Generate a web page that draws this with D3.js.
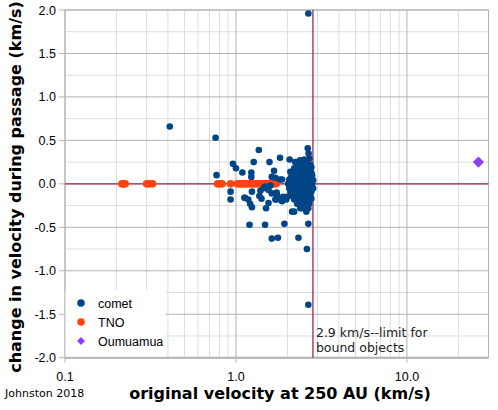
<!DOCTYPE html>
<html>
<head>
<meta charset="utf-8">
<script src="https://cdn.jsdelivr.net/npm/d3@7"></script>
<style>
  body { margin: 0; background: #fff; }
  svg { display: block; }
</style>
</head>
<body>
<div id="chart"></div>
<script>
// comets: [original velocity (km/s), change in velocity (km/s)]
const comets = [
  [2.65, 1.96], [0.41, 0.66], [0.76, 0.53], [0.77, 0.10], [0.96, 0.23], [1.00, 0.18],
  [1.09, 0.13], [0.93, -0.09], [0.93, -0.18], [1.36, 0.39], [1.23, 0.13], [1.23, 0.08],
  [1.27, 0.25], [1.12, -0.16], [1.18, -0.18], [1.21, -0.23], [1.24, -0.27], [1.20, -0.47],
  [1.48, -0.47], [1.62, -0.63], [1.76, -0.62], [1.92, -0.46], [2.32, -0.62], [2.60, -0.75],
  [2.65, -0.46], [2.65, -1.39], [1.41, -0.17], [1.39, -0.08], [1.50, -0.28], [1.55, -0.22],
  [1.57, 0.25], [1.67, 0.15], [1.81, 0.30], [2.06, 0.28], [2.27, 0.25], [2.37, 0.27],
  [2.63, 0.41], [2.66, 0.35], [1.45, -0.05], [1.59, -0.02], [1.74, -0.13], [1.81, -0.17],
  [1.70, -0.18], [1.88, -0.18], [1.99, -0.15], [2.13, -0.32], [2.19, -0.32], [2.43, -0.28],
  [2.08, 0.14], [1.81, 0.05], [1.62, 0.08], [1.70, 0.07], [1.24, -0.09], [1.48, -0.03],
  [1.55, -0.07], [1.62, -0.11], [1.73, -0.10], [1.37, -0.14], [1.13, -0.16], [1.73, -0.18],
  [1.89, -0.15], [1.86, -0.20], [1.97, -0.18], [2.56, -0.26], [1.86, 0.05], [2.22, 0.25],
  [2.51, 0.28], [2.69, 0.29], [2.31, 0.22], [2.44, 0.23], [2.58, 0.24], [2.72, 0.22],
  [2.19, 0.18], [2.31, 0.17], [2.44, 0.19], [2.54, 0.18], [2.65, 0.17], [2.76, 0.19],
  [2.13, 0.13], [2.25, 0.14], [2.35, 0.12], [2.44, 0.14], [2.54, 0.13], [2.65, 0.15], [2.76, 0.13],
  [2.11, 0.09], [2.19, 0.10], [2.28, 0.08], [2.38, 0.09], [2.48, 0.10], [2.58, 0.08], [2.68, 0.09], [2.79, 0.10],
  [2.05, 0.05], [2.13, 0.04], [2.22, 0.05], [2.31, 0.06], [2.41, 0.04], [2.51, 0.05], [2.61, 0.04], [2.72, 0.05], [2.83, 0.04],
  [2.02, 0.00], [2.11, -0.01], [2.19, 0.01], [2.28, 0.00], [2.38, -0.01], [2.48, 0.00], [2.58, 0.01], [2.68, -0.01], [2.79, 0.00],
  [2.05, -0.05], [2.13, -0.04], [2.22, -0.06], [2.31, -0.05], [2.41, -0.04], [2.51, -0.06], [2.61, -0.05], [2.72, -0.04], [2.83, -0.05],
  [2.08, -0.09], [2.16, -0.10], [2.25, -0.09], [2.35, -0.08], [2.44, -0.10], [2.54, -0.09], [2.65, -0.10], [2.76, -0.09],
  [2.13, -0.14], [2.22, -0.13], [2.31, -0.15], [2.41, -0.14], [2.51, -0.13], [2.61, -0.14], [2.72, -0.15],
  [2.19, -0.18], [2.31, -0.19], [2.44, -0.18], [2.54, -0.19], [2.65, -0.18], [2.76, -0.17],
  [2.28, -0.23], [2.41, -0.22], [2.54, -0.24], [2.68, -0.23],
  [2.38, -0.28], [2.51, -0.27], [2.65, -0.28], [2.58, -0.32]
];
// TNOs all sit on zero change
const tnoVelocity = [
  0.215, 0.22, 0.225, 0.30, 0.31, 0.325, 0.78, 0.80, 0.83, 0.93, 1.02, 1.05, 1.08, 1.11,
  1.14, 1.17, 1.20, 1.24, 1.28, 1.32, 1.36, 1.40, 1.45, 1.50, 1.55, 1.60, 1.66, 1.72
];
const oumuamua = [[26.2, 0.25]];

const boundLimit = 2.82;
const seriesNames = ["comet", "TNO", "Oumuamua"];
const seriesColors = ["#004586", "#ff420e", "#8b40ff"];
const xTickValues = [0.1, 1, 10];
const xTickLabels = ["0.1", "1.0", "10.0"];
const yTickValues = [2, 1.5, 1, 0.5, 0, -0.5, -1, -1.5, -2];
const yTickLabels = ["2.0", "1.5", "1.0", "0.5", "0.0", "-0.5", "-1.0", "-1.5", "-2.0"];
const yMinorValues = [1.75, 1.25, 0.75, 0.25, -0.25, -0.75, -1.25, -1.75];

const width = 498, height = 410;
const plotLeft = 65, plotRight = 488.5, plotTop = 10, plotBottom = 357.7;

const svg = d3.select("#chart").append("svg")
  .attr("width", width).attr("height", height)
  .style("font-family", "'Liberation Sans', Arial, sans-serif");

const x = d3.scaleLog().domain([0.1, 30]).range([plotLeft, plotRight]);
const y = d3.scaleLinear().domain([-2, 2]).range([plotBottom, plotTop]);

// minor grid
svg.append("g").selectAll("line")
  .data(x.ticks().filter((d) => !xTickValues.includes(d)))
  .join("line")
  .attr("x1", (d) => x(d)).attr("x2", (d) => x(d))
  .attr("y1", plotTop).attr("y2", plotBottom)
  .attr("stroke", "#dddddd");
svg.append("g").selectAll("line")
  .data(yMinorValues)
  .join("line")
  .attr("x1", plotLeft).attr("x2", plotRight)
  .attr("y1", (d) => y(d)).attr("y2", (d) => y(d))
  .attr("stroke", "#dddddd");

// major grid, with short ticks outside the frame
svg.append("g").selectAll("line")
  .data(xTickValues)
  .join("line")
  .attr("x1", (d) => x(d)).attr("x2", (d) => x(d))
  .attr("y1", plotTop).attr("y2", plotBottom + 5)
  .attr("stroke", "#b3b3b3");
svg.append("g").selectAll("line")
  .data(yTickValues)
  .join("line")
  .attr("x1", plotLeft - 6).attr("x2", plotRight)
  .attr("y1", (d) => y(d)).attr("y2", (d) => y(d))
  .attr("stroke", "#b3b3b3");

svg.append("rect")
  .attr("x", plotLeft).attr("y", plotTop)
  .attr("width", plotRight - plotLeft).attr("height", plotBottom - plotTop)
  .attr("fill", "none").attr("stroke", "#b3b3b3");
svg.append("line")
  .attr("x1", plotLeft).attr("x2", plotRight).attr("y1", plotBottom).attr("y2", plotBottom)
  .attr("stroke", "#b3b3b3").attr("stroke-width", 2);

// tick labels
svg.append("g").selectAll("text")
  .data(yTickValues)
  .join("text")
  .attr("x", plotLeft - 9).attr("y", (d) => y(d) + 4.5)
  .attr("text-anchor", "end")
  .attr("font-size", 12.5)
  .text((d, i) => yTickLabels[i]);
svg.append("g").selectAll("text")
  .data(xTickValues)
  .join("text")
  .attr("x", (d) => x(d)).attr("y", plotBottom + 23)
  .attr("text-anchor", "middle")
  .attr("font-size", 12.5)
  .text((d, i) => xTickLabels[i]);

// reference lines
const limitColor = "#a3244f";
svg.append("line")
  .attr("x1", plotLeft).attr("x2", plotRight).attr("y1", y(0)).attr("y2", y(0))
  .attr("stroke", limitColor).attr("stroke-width", 1.3);
svg.append("line")
  .attr("x1", x(boundLimit)).attr("x2", x(boundLimit)).attr("y1", plotTop).attr("y2", plotBottom)
  .attr("stroke", limitColor).attr("stroke-width", 1.3);

// legend box
svg.append("rect")
  .attr("x", plotLeft + 0.5).attr("y", 290)
  .attr("width", 100).attr("height", plotBottom - 291)
  .attr("fill", "#fff");

// points
svg.append("g").selectAll("circle")
  .data(tnoVelocity)
  .join("circle")
  .attr("cx", (d) => x(d)).attr("cy", y(0)).attr("r", 3.8)
  .attr("fill", seriesColors[1]);
svg.append("g").selectAll("circle")
  .data(comets)
  .join("circle")
  .attr("cx", (d) => x(d[0])).attr("cy", (d) => y(d[1])).attr("r", 3.3)
  .attr("fill", seriesColors[0]);
const diamond = d3.symbol().type(d3.symbolDiamond2).size(80);
svg.append("g").selectAll("path")
  .data(oumuamua)
  .join("path")
  .attr("d", diamond)
  .attr("transform", (d) => `translate(${x(d[0])},${y(d[1])})`)
  .attr("fill", seriesColors[2]);

// legend entries
const legend = svg.append("g").selectAll("g")
  .data(seriesNames)
  .join("g")
  .attr("transform", (d, i) => `translate(81,${303 + i * 19})`);
legend.append("path")
  .attr("d", (d, i) => d3.symbol().type(i < 2 ? d3.symbolCircle : d3.symbolDiamond2).size(i < 2 ? 45 : 40)())
  .attr("fill", (d, i) => seriesColors[i]);
legend.append("text")
  .attr("x", 17).attr("y", 4.5)
  .attr("font-size", 12.5)
  .text((d) => d);

// annotation
const note = svg.append("text")
  .attr("x", x(boundLimit) + 3).attr("y", 337)
  .attr("font-family", "'DejaVu Sans', sans-serif")
  .attr("font-size", 12.5)
  .attr("fill", "#222");
note.append("tspan").attr("x", x(boundLimit) + 3).text("2.9 km/s--limit for");
note.append("tspan").attr("x", x(boundLimit) + 3).attr("dy", 15).text("bound objects");

svg.append("text")
  .attr("x", 5).attr("y", 397)
  .attr("font-family", "'DejaVu Sans', sans-serif")
  .attr("font-size", 11)
  .text("Johnston 2018");

// axis titles
svg.append("text")
  .attr("x", 280).attr("y", 399)
  .attr("text-anchor", "middle")
  .attr("font-family", "'DejaVu Sans', sans-serif")
  .attr("font-weight", "bold")
  .attr("font-size", 16)
  .text("original velocity at 250 AU (km/s)");
svg.append("text")
  .attr("transform", "translate(21,187) rotate(-90)")
  .attr("text-anchor", "middle")
  .attr("font-family", "'DejaVu Sans', sans-serif")
  .attr("font-weight", "bold")
  .attr("font-size", 16)
  .text("change in velocity during passage (km/s)");
</script>
</body>
</html>
